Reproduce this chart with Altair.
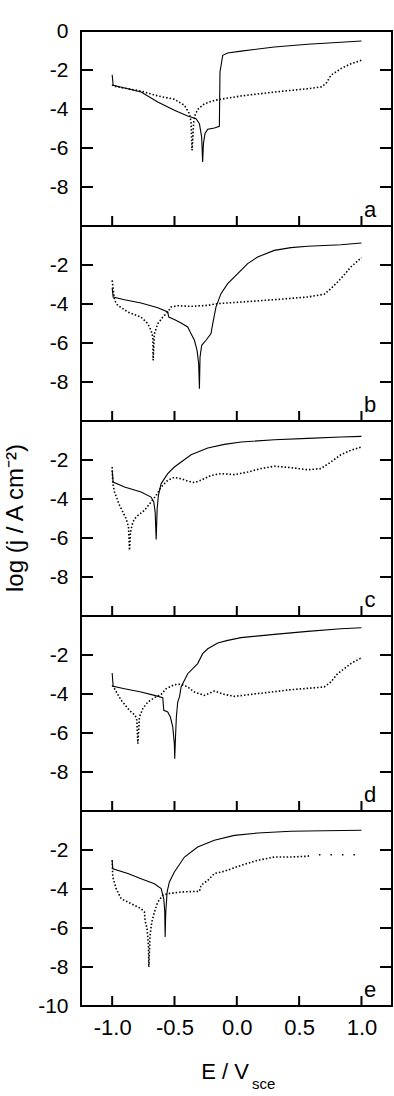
import altair as alt
import pandas as pd

FONT = "Liberation Sans"
W, H = 311, 195
XDOM = [-1.25, 1.245]
YDOM = [-10, 0]
XTICKS = [-1.0, -0.5, 0.0, 0.5, 1.0]
YTICKS = [-2, -4, -6, -8]

# ---------------- panel a ----------------
a_solid_E = [-1.0, -0.992, -0.874, -0.768, -0.634, -0.501, -0.394, -0.327, -0.300, -0.282, -0.274, -0.268,
             -0.255, -0.233, -0.180, -0.140, -0.135, -0.113, -0.073, 0.034, 0.301, 0.568, 0.835, 1.0]
a_solid_j = [-2.24, -2.79, -2.96, -3.13, -3.64, -4.07, -4.36, -4.50, -4.75, -5.44, -6.72, -5.78,
             -5.26, -5.04, -4.97, -4.89, -2.10, -1.25, -1.13, -1.03, -0.82, -0.68, -0.58, -0.51]
a_dot_E = [-1.0, -0.992, -0.874, -0.768, -0.634, -0.501, -0.420, -0.380, -0.367, -0.359, -0.346, -0.335,
           -0.314, -0.260, -0.180, -0.073, 0.034, 0.301, 0.568, 0.675, 0.715, 0.755, 0.835, 0.915, 1.0]
a_dot_j = [-2.75, -2.82, -2.96, -3.08, -3.33, -3.50, -3.81, -4.24, -4.67, -6.12, -4.67, -4.32,
           -4.02, -3.73, -3.56, -3.44, -3.33, -3.13, -2.96, -2.87, -2.70, -2.27, -1.93, -1.68, -1.50]

# ---------------- panel b ----------------
b_solid_E = [-1.0, -0.992, -0.901, -0.768, -0.634, -0.554, -0.546, -0.501, -0.447, -0.394, -0.367, -0.340,
             -0.319, -0.306, -0.300, -0.295, -0.282, -0.247, -0.207, -0.193, -0.167, -0.127, -0.073, 0.007,
             0.087, 0.167, 0.301, 0.434, 0.568, 0.835, 1.0]
b_solid_j = [-3.16, -3.64, -3.78, -3.95, -4.19, -4.41, -4.67, -4.80, -4.97, -5.18, -5.52, -5.86,
             -6.38, -7.06, -8.34, -6.72, -6.12, -5.86, -5.52, -5.01, -4.15, -3.47, -2.96, -2.44,
             -1.93, -1.59, -1.25, -1.11, -1.04, -0.96, -0.87]
b_dot_E = [-1.0, -0.981, -0.955, -0.874, -0.768, -0.714, -0.688, -0.674, -0.671, -0.661, -0.634, -0.594,
           -0.554, -0.527, -0.474, -0.367, -0.233, -0.153, 0.034, 0.301, 0.568, 0.701, 0.755, 0.835, 0.915, 1.0]
b_dot_j = [-2.79, -3.81, -4.07, -4.41, -4.67, -5.01, -5.35, -5.69, -6.89, -5.52, -5.01, -4.67,
           -4.41, -4.15, -4.09, -4.12, -4.07, -3.98, -3.90, -3.78, -3.64, -3.50, -3.21, -2.70, -2.10, -1.62]

# ---------------- panel c ----------------
c_solid_E = [-1.0, -0.992, -0.901, -0.768, -0.688, -0.666, -0.655, -0.647, -0.639, -0.629, -0.607, -0.554,
             -0.501, -0.367, -0.233, -0.100, 0.034, 0.301, 0.568, 0.835, 1.0]
c_solid_j = [-2.53, -3.13, -3.38, -3.64, -3.90, -4.15, -4.67, -6.07, -4.50, -3.81, -3.21, -2.70,
             -2.36, -1.73, -1.38, -1.20, -1.08, -0.96, -0.89, -0.82, -0.79]
c_dot_E = [-1.0, -0.995, -0.981, -0.941, -0.888, -0.869, -0.861, -0.853, -0.834, -0.808, -0.741, -0.688,
           -0.647, -0.607, -0.554, -0.501, -0.447, -0.394, -0.340, -0.287, -0.207, -0.127, -0.020, 0.087,
           0.194, 0.301, 0.434, 0.568, 0.675, 0.755, 0.835, 0.915, 1.0]
c_dot_j = [-2.36, -3.21, -3.64, -4.32, -5.01, -5.44, -6.63, -5.69, -5.18, -4.92, -4.58, -4.15,
           -3.81, -3.38, -3.04, -2.89, -2.96, -3.08, -3.16, -3.04, -2.79, -2.70, -2.75, -2.62,
           -2.44, -2.32, -2.39, -2.50, -2.44, -2.10, -1.73, -1.50, -1.33]

# ---------------- panel d ----------------
d_solid_E = [-1.0, -0.992, -0.901, -0.768, -0.661, -0.594, -0.586, -0.554, -0.533, -0.514, -0.501, -0.498,
             -0.493, -0.485, -0.474, -0.460, -0.447, -0.394, -0.314, -0.274, -0.233, -0.153, -0.073, 0.034,
             0.301, 0.568, 0.835, 1.0]
d_solid_j = [-2.92, -3.61, -3.73, -3.90, -4.07, -4.19, -4.84, -4.92, -5.18, -5.69, -6.55, -7.32,
             -6.38, -5.18, -4.41, -4.15, -3.64, -2.96, -2.44, -1.93, -1.68, -1.38, -1.25, -1.11,
             -0.94, -0.79, -0.65, -0.60]
d_dot_E = [-1.0, -0.981, -0.928, -0.861, -0.816, -0.802, -0.794, -0.781, -0.754, -0.714, -0.661, -0.607,
           -0.567, -0.501, -0.447, -0.394, -0.340, -0.260, -0.180, -0.100, -0.020, 0.167, 0.434, 0.701,
           0.755, 0.808, 0.915, 1.0]
d_dot_j = [-3.56, -3.73, -4.32, -4.84, -5.09, -5.35, -6.55, -5.18, -4.75, -4.41, -4.19, -4.02,
           -3.73, -3.52, -3.50, -3.64, -3.90, -4.07, -3.85, -4.02, -4.12, -3.98, -3.78, -3.64,
           -3.38, -2.96, -2.44, -2.14]

# ---------------- panel e ----------------
e_solid_E = [-1.0, -0.995, -0.874, -0.768, -0.661, -0.607, -0.586, -0.578, -0.575, -0.570, -0.559, -0.541,
             -0.501, -0.420, -0.314, -0.180, -0.020, 0.167, 0.434, 0.701, 1.0]
e_solid_j = [-2.53, -2.96, -3.21, -3.47, -3.73, -3.98, -4.50, -5.18, -6.46, -5.18, -4.15, -3.64,
             -3.13, -2.36, -1.85, -1.50, -1.25, -1.13, -1.04, -1.01, -0.99]
e_dot_E = [-1.0, -0.995, -0.968, -0.928, -0.848, -0.768, -0.741, -0.736, -0.720, -0.709, -0.706, -0.696,
           -0.682, -0.661, -0.634, -0.594, -0.554, -0.447, -0.300, -0.287, -0.233, -0.180, -0.100, 0.034,
           0.167, 0.301, 0.434, 0.568]
e_dot_j = [-2.53, -3.38, -3.98, -4.50, -4.75, -5.01, -5.18, -5.61, -6.03, -6.89, -8.00, -6.38,
           -5.69, -5.18, -4.67, -4.32, -4.24, -4.15, -4.12, -3.81, -3.56, -3.21, -3.09, -2.79,
           -2.53, -2.36, -2.36, -2.32]
e_tail_E = [0.568, 0.621, 0.835, 0.968]
e_tail_j = [-2.32, -2.24, -2.24, -2.24]

Y_LABELS = {
    "a": [0, -2, -4, -6, -8],
    "b": [-2, -4, -6, -8],
    "c": [-2, -4, -6, -8],
    "d": [-2, -4, -6, -8],
    "e": [-2, -4, -6, -8, -10],
}

YLAB_EXPR = "datum.value < 0 ? '-' + format(-datum.value, 'd') : format(datum.value, 'd')"
XLAB_EXPR = "datum.value < 0 ? '-' + format(-datum.value, '.1f') : format(datum.value, '.1f')"

DOT = dict(color="black", strokeWidth=1.6, strokeDash=[1.5, 2.0])


def panel(letter, sE, sJ, dE, dJ, show_x=False, tail=None, extra=None):
    xs = alt.Scale(domain=XDOM, nice=False, zero=False)
    ys = alt.Scale(domain=YDOM, nice=False, zero=False)
    if show_x:
        xaxis = alt.Axis(values=XTICKS, labelExpr=XLAB_EXPR, title=None, labelPadding=11,
                         labelFontSize=22, labelFlush=False)
    else:
        xaxis = None
    yaxis = alt.Axis(values=Y_LABELS[letter], labelExpr=YLAB_EXPR, title=None, labelPadding=13,
                     labelFontSize=21, labelOverlap=False)

    def X(f):
        return alt.X(f"{f}:Q", scale=xs, axis=xaxis)

    def Y(f):
        return alt.Y(f"{f}:Q", scale=ys, axis=yaxis)

    sdf = pd.DataFrame({"E": sE, "j": sJ, "i": list(range(len(sE)))})
    ddf = pd.DataFrame({"E": dE, "j": dJ, "i": list(range(len(dE)))})
    layers = [
        alt.Chart(ddf).mark_line(**DOT).encode(x=X("E"), y=Y("j"), order="i:Q"),
        alt.Chart(sdf).mark_line(color="black", strokeWidth=1.1).encode(
            x=X("E"), y=Y("j"), order="i:Q"),
    ]
    if tail is not None:
        tdf = pd.DataFrame({"E": tail[0], "j": tail[1], "i": list(range(len(tail[0])))})
        layers.append(alt.Chart(tdf).mark_line(color="black", strokeWidth=1.6, strokeDash=[1.5, 10]).encode(
            x=X("E"), y=Y("j"), order="i:Q"))
    yt = pd.DataFrame({"t": YTICKS})
    xt = pd.DataFrame({"t": XTICKS})
    layers += [
        alt.Chart(yt).mark_rule(color="black", strokeWidth=2).encode(
            y=Y("t"), x=alt.value(0), x2=alt.value(12)),
        alt.Chart(yt).mark_rule(color="black", strokeWidth=2).encode(
            y=Y("t"), x=alt.value(W - 12), x2=alt.value(W)),
        alt.Chart(xt).mark_rule(color="black", strokeWidth=2).encode(
            x=X("t"), y=alt.value(H), y2=alt.value(H - 10)),
        alt.Chart(pd.DataFrame({"t": [letter]})).mark_text(
            font=FONT, fontSize=22, align="center", baseline="middle", color="black").encode(
            text="t:N", x=alt.value(W - 22), y=alt.value(H - 16)),
    ]
    if extra:
        layers += extra
    return alt.layer(*layers).properties(width=W, height=H)


def txt(s, x, y, size, angle=0, align="left", baseline="alphabetic"):
    kw = dict(font=FONT, fontSize=size, align=align, baseline=baseline, color="black")
    if angle:
        kw["angle"] = angle
    return alt.Chart(pd.DataFrame({"t": [s]})).mark_text(**kw).encode(
        text="t:N", x=alt.value(x), y=alt.value(y))


ytitle = [
    txt("log (j / A cm\u207b\u00b2)", -58, 97, 24, angle=270, align="center"),
]
xtitle = [
    txt("E / V", 168, 268, 22, align="right"),
    txt("sce", 171, 278, 15),
]

pa = panel("a", a_solid_E, a_solid_j, a_dot_E, a_dot_j)
pb = panel("b", b_solid_E, b_solid_j, b_dot_E, b_dot_j)
pc = panel("c", c_solid_E, c_solid_j, c_dot_E, c_dot_j, extra=ytitle)
pd_ = panel("d", d_solid_E, d_solid_j, d_dot_E, d_dot_j)
pe = panel("e", e_solid_E, e_solid_j, e_dot_E, e_dot_j, show_x=True, tail=(e_tail_E, e_tail_j), extra=xtitle)

chart = alt.vconcat(pa, pb, pc, pd_, pe, spacing=0, bounds="flush").properties(
    padding={"left": 3, "top": 19, "right": 0, "bottom": 0}
).configure_view(stroke="black", strokeWidth=2).configure_axis(
    domain=False, ticks=False, grid=False, labelFont=FONT, labelColor="black"
)

chart.save("out.html", embed_options={"renderer": "svg", "actions": False})
